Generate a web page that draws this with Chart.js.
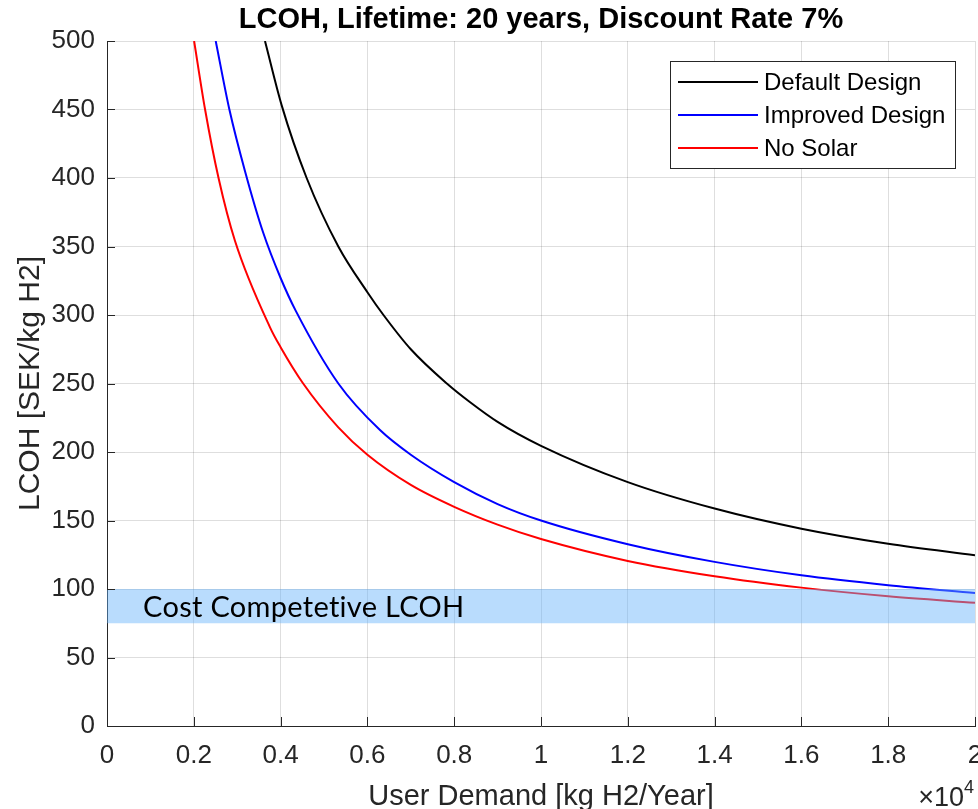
<!DOCTYPE html>
<html>
<head>
<meta charset="utf-8">
<script src="https://cdn.jsdelivr.net/npm/chart.js@4.4.1/dist/chart.umd.min.js"></script>
<style>
  html, body { margin: 0; padding: 0; background: #fff; }
  #wrap { width: 978px; height: 809px; position: relative; }
</style>
</head>
<body>
<div id="wrap"><canvas id="myChart" width="978" height="809"></canvas></div>
<script>
// values (x in units of 1e4 kg H2/year)
const chartTitle = 'LCOH, Lifetime: 20 years, Discount Rate 7%';
const xTitle = 'User Demand [kg H2/Year]';
const yTitle = 'LCOH [SEK/kg H2]';

const xTicks = [0, 0.2, 0.4, 0.6, 0.8, 1, 1.2, 1.4, 1.6, 1.8, 2];
const xTickLabels = ['0', '0.2', '0.4', '0.6', '0.8', '1', '1.2', '1.4', '1.6', '1.8', '2'];
const yTicks = [0, 50, 100, 150, 200, 250, 300, 350, 400, 450, 500];

const defaultX = [0.364, 0.4025, 0.46, 0.533, 0.6, 0.637, 0.7, 0.783, 0.836, 0.9, 1.0, 1.2, 1.4, 1.6, 1.8, 2.0];
const defaultY = [500, 453, 400, 350, 316.6, 300, 275, 250, 236.5, 222, 204.5, 178, 158.7, 144, 133, 124.6];

const improvedX = [0.2505, 0.282, 0.318, 0.36, 0.4, 0.435, 0.533, 0.629, 0.7, 0.8, 0.9, 1.0, 1.2, 1.4, 1.6, 1.8, 2.0];
const improvedY = [500, 450, 405, 360, 327, 303, 250, 216, 198, 178, 162, 150, 132.7, 119.8, 110, 102.8, 97];

const noSolarX = [0.2007, 0.226, 0.257, 0.295, 0.3756, 0.4, 0.452, 0.533, 0.6, 0.7, 0.8, 0.9, 1.0, 1.2, 1.4, 1.6, 1.8, 2.0];
const noSolarY = [500, 450, 400, 354, 291, 276.5, 250, 218, 198, 176, 160, 147, 136.5, 120.5, 109.3, 101, 94.7, 90];

const seriesNames = ['Default Design', 'Improved Design', 'No Solar'];
const seriesColors = ['#000000', '#0000ff', '#ff0000'];

const bandLow = 75;
const bandHigh = 100;
const bandLabel = 'Cost Competetive LCOH';
const bandLabelX = 0.083;
const bandLabelY = 86.5;

function toPoints(xs, ys) {
    var pts = new Array();
    for (let i = 0; i < xs.length; i++) {
        pts.push({x: xs[i], y: ys[i]});
    }
    return pts;
}

const axisColor = '#262626';
const baseFont = '"Liberation Sans", Arial, sans-serif';

// title, axis titles, inner tick marks, band and legend
const decorations = {
    id: 'decorations',
    afterDatasetsDraw(chart) {
        const ctx = chart.ctx;
        const area = chart.chartArea;
        const xs = chart.scales.x;
        const ys = chart.scales.y;
        ctx.save();
        // cost band sits over the curves, semi transparent
        const yTop = ys.getPixelForValue(bandHigh);
        const yBot = ys.getPixelForValue(bandLow);
        ctx.fillStyle = 'rgba(100, 178, 250, 0.45)';
        ctx.fillRect(area.left, yTop, area.right - area.left, yBot - yTop);
        ctx.fillStyle = '#000';
        ctx.font = '29px Lato, "Open Sans", sans-serif';
        ctx.letterSpacing = '0.3px'; // also keeps "ti" from turning into a ligature
        ctx.textAlign = 'left';
        ctx.textBaseline = 'middle';
        ctx.fillText(bandLabel, xs.getPixelForValue(bandLabelX), ys.getPixelForValue(bandLabelY));
        ctx.restore();
    },
    afterDraw(chart) {
        const ctx = chart.ctx;
        const area = chart.chartArea;
        const xs = chart.scales.x;
        const ys = chart.scales.y;
        ctx.save();
        // ticks pointing inward
        ctx.strokeStyle = axisColor;
        ctx.lineWidth = 1;
        ctx.beginPath();
        yTicks.forEach(v => {
            const p = Math.round(ys.getPixelForValue(v)) + 0.5;
            ctx.moveTo(area.left, p);
            ctx.lineTo(area.left + 8, p);
        });
        xTicks.forEach(v => {
            const p = Math.round(xs.getPixelForValue(v)) + 0.5;
            ctx.moveTo(p, area.bottom);
            ctx.lineTo(p, area.bottom - 9);
        });
        ctx.stroke();

        const cx = (area.left + area.right) / 2;
        const cy = (area.top + area.bottom) / 2;
        // title
        ctx.fillStyle = '#000';
        ctx.font = 'bold 29px ' + baseFont;
        ctx.textAlign = 'center';
        ctx.textBaseline = 'alphabetic';
        ctx.fillText(chartTitle, cx, 28);
        // axis titles
        ctx.fillStyle = axisColor;
        ctx.font = '29px ' + baseFont;
        ctx.fillText(xTitle, cx, 805);
        ctx.save();
        ctx.translate(39, cy);
        ctx.rotate(-Math.PI / 2);
        ctx.font = '30px ' + baseFont;
        ctx.fillText(yTitle, 0, 0);
        ctx.restore();
        // exponent marker
        ctx.textAlign = 'right';
        ctx.font = '18px ' + baseFont;
        ctx.fillText('4', 974, 793);
        const w4 = ctx.measureText('4').width;
        ctx.font = '27px ' + baseFont;
        ctx.fillText('\u00d710', 974 - w4, 806);

        // legend box
        const lx = 670, ly = 61, lw = 285, lh = 107;
        ctx.fillStyle = '#fff';
        ctx.fillRect(lx, ly, lw, lh);
        ctx.strokeStyle = axisColor;
        ctx.strokeRect(lx + 0.5, ly + 0.5, lw, lh);
        ctx.font = '24px ' + baseFont;
        ctx.textAlign = 'left';
        ctx.textBaseline = 'middle';
        chart.data.datasets.forEach((ds, i) => {
            const rowY = 82 + i * 33;
            ctx.strokeStyle = ds.borderColor;
            ctx.lineWidth = 2;
            ctx.beginPath();
            ctx.moveTo(678, rowY);
            ctx.lineTo(758, rowY);
            ctx.stroke();
            ctx.fillStyle = '#000';
            ctx.fillText(ds.label, 764, rowY + 1);
        });
        ctx.restore();
    }
};

const ctx = document.getElementById('myChart');
const myChart = new Chart(ctx, {
    type: 'scatter',
    data: {
        datasets: [
            {
                label: seriesNames[0],
                data: toPoints(defaultX, defaultY),
                borderColor: seriesColors[0],
                borderWidth: 2,
                pointRadius: 0,
                showLine: true,
                cubicInterpolationMode: 'monotone',
            },
            {
                label: seriesNames[1],
                data: toPoints(improvedX, improvedY),
                borderColor: seriesColors[1],
                borderWidth: 2,
                pointRadius: 0,
                showLine: true,
                cubicInterpolationMode: 'monotone',
            },
            {
                label: seriesNames[2],
                data: toPoints(noSolarX, noSolarY),
                borderColor: seriesColors[2],
                borderWidth: 2,
                pointRadius: 0,
                showLine: true,
                cubicInterpolationMode: 'monotone',
            },
        ]
    },
    options: {
        responsive: false,
        animation: false,
        layout: {
            padding: {top: 41, right: 3, left: 0, bottom: 0}
        },
        plugins: {
            legend: { display: false },
            tooltip: { enabled: false },
            title: { display: false },
        },
        scales: {
            x: {
                type: 'linear',
                min: 0,
                max: 2,
                afterBuildTicks: (scale) => {
                    scale.ticks = xTicks.map(v => ({value: v}));
                },
                afterFit: (scale) => {
                    scale.height = 83;
                    scale.paddingLeft = 0;
                    scale.paddingRight = 0;
                },
                ticks: {
                    autoSkip: false,
                    maxRotation: 0,
                    padding: 14,
                    color: axisColor,
                    font: { family: baseFont, size: 26 },
                    callback: (value, index) => xTickLabels[index],
                },
                grid: {
                    color: 'rgba(0, 0, 0, 0.13)',
                    drawTicks: false,
                },
                border: { display: true, color: axisColor, width: 1 },
            },
            y: {
                type: 'linear',
                min: 0,
                max: 500,
                afterBuildTicks: (scale) => {
                    scale.ticks = yTicks.map(v => ({value: v}));
                },
                afterFit: (scale) => {
                    scale.width = 107;
                    scale.paddingTop = 0;
                    scale.paddingBottom = 0;
                },
                ticks: {
                    autoSkip: false,
                    padding: 12,
                    color: axisColor,
                    font: { family: baseFont, size: 26 },
                    callback: (value) => String(value),
                },
                grid: {
                    color: 'rgba(0, 0, 0, 0.13)',
                    drawTicks: false,
                },
                border: { display: true, color: axisColor, width: 1 },
            }
        }
    },
    plugins: [decorations]
});
</script>
</body>
</html>
